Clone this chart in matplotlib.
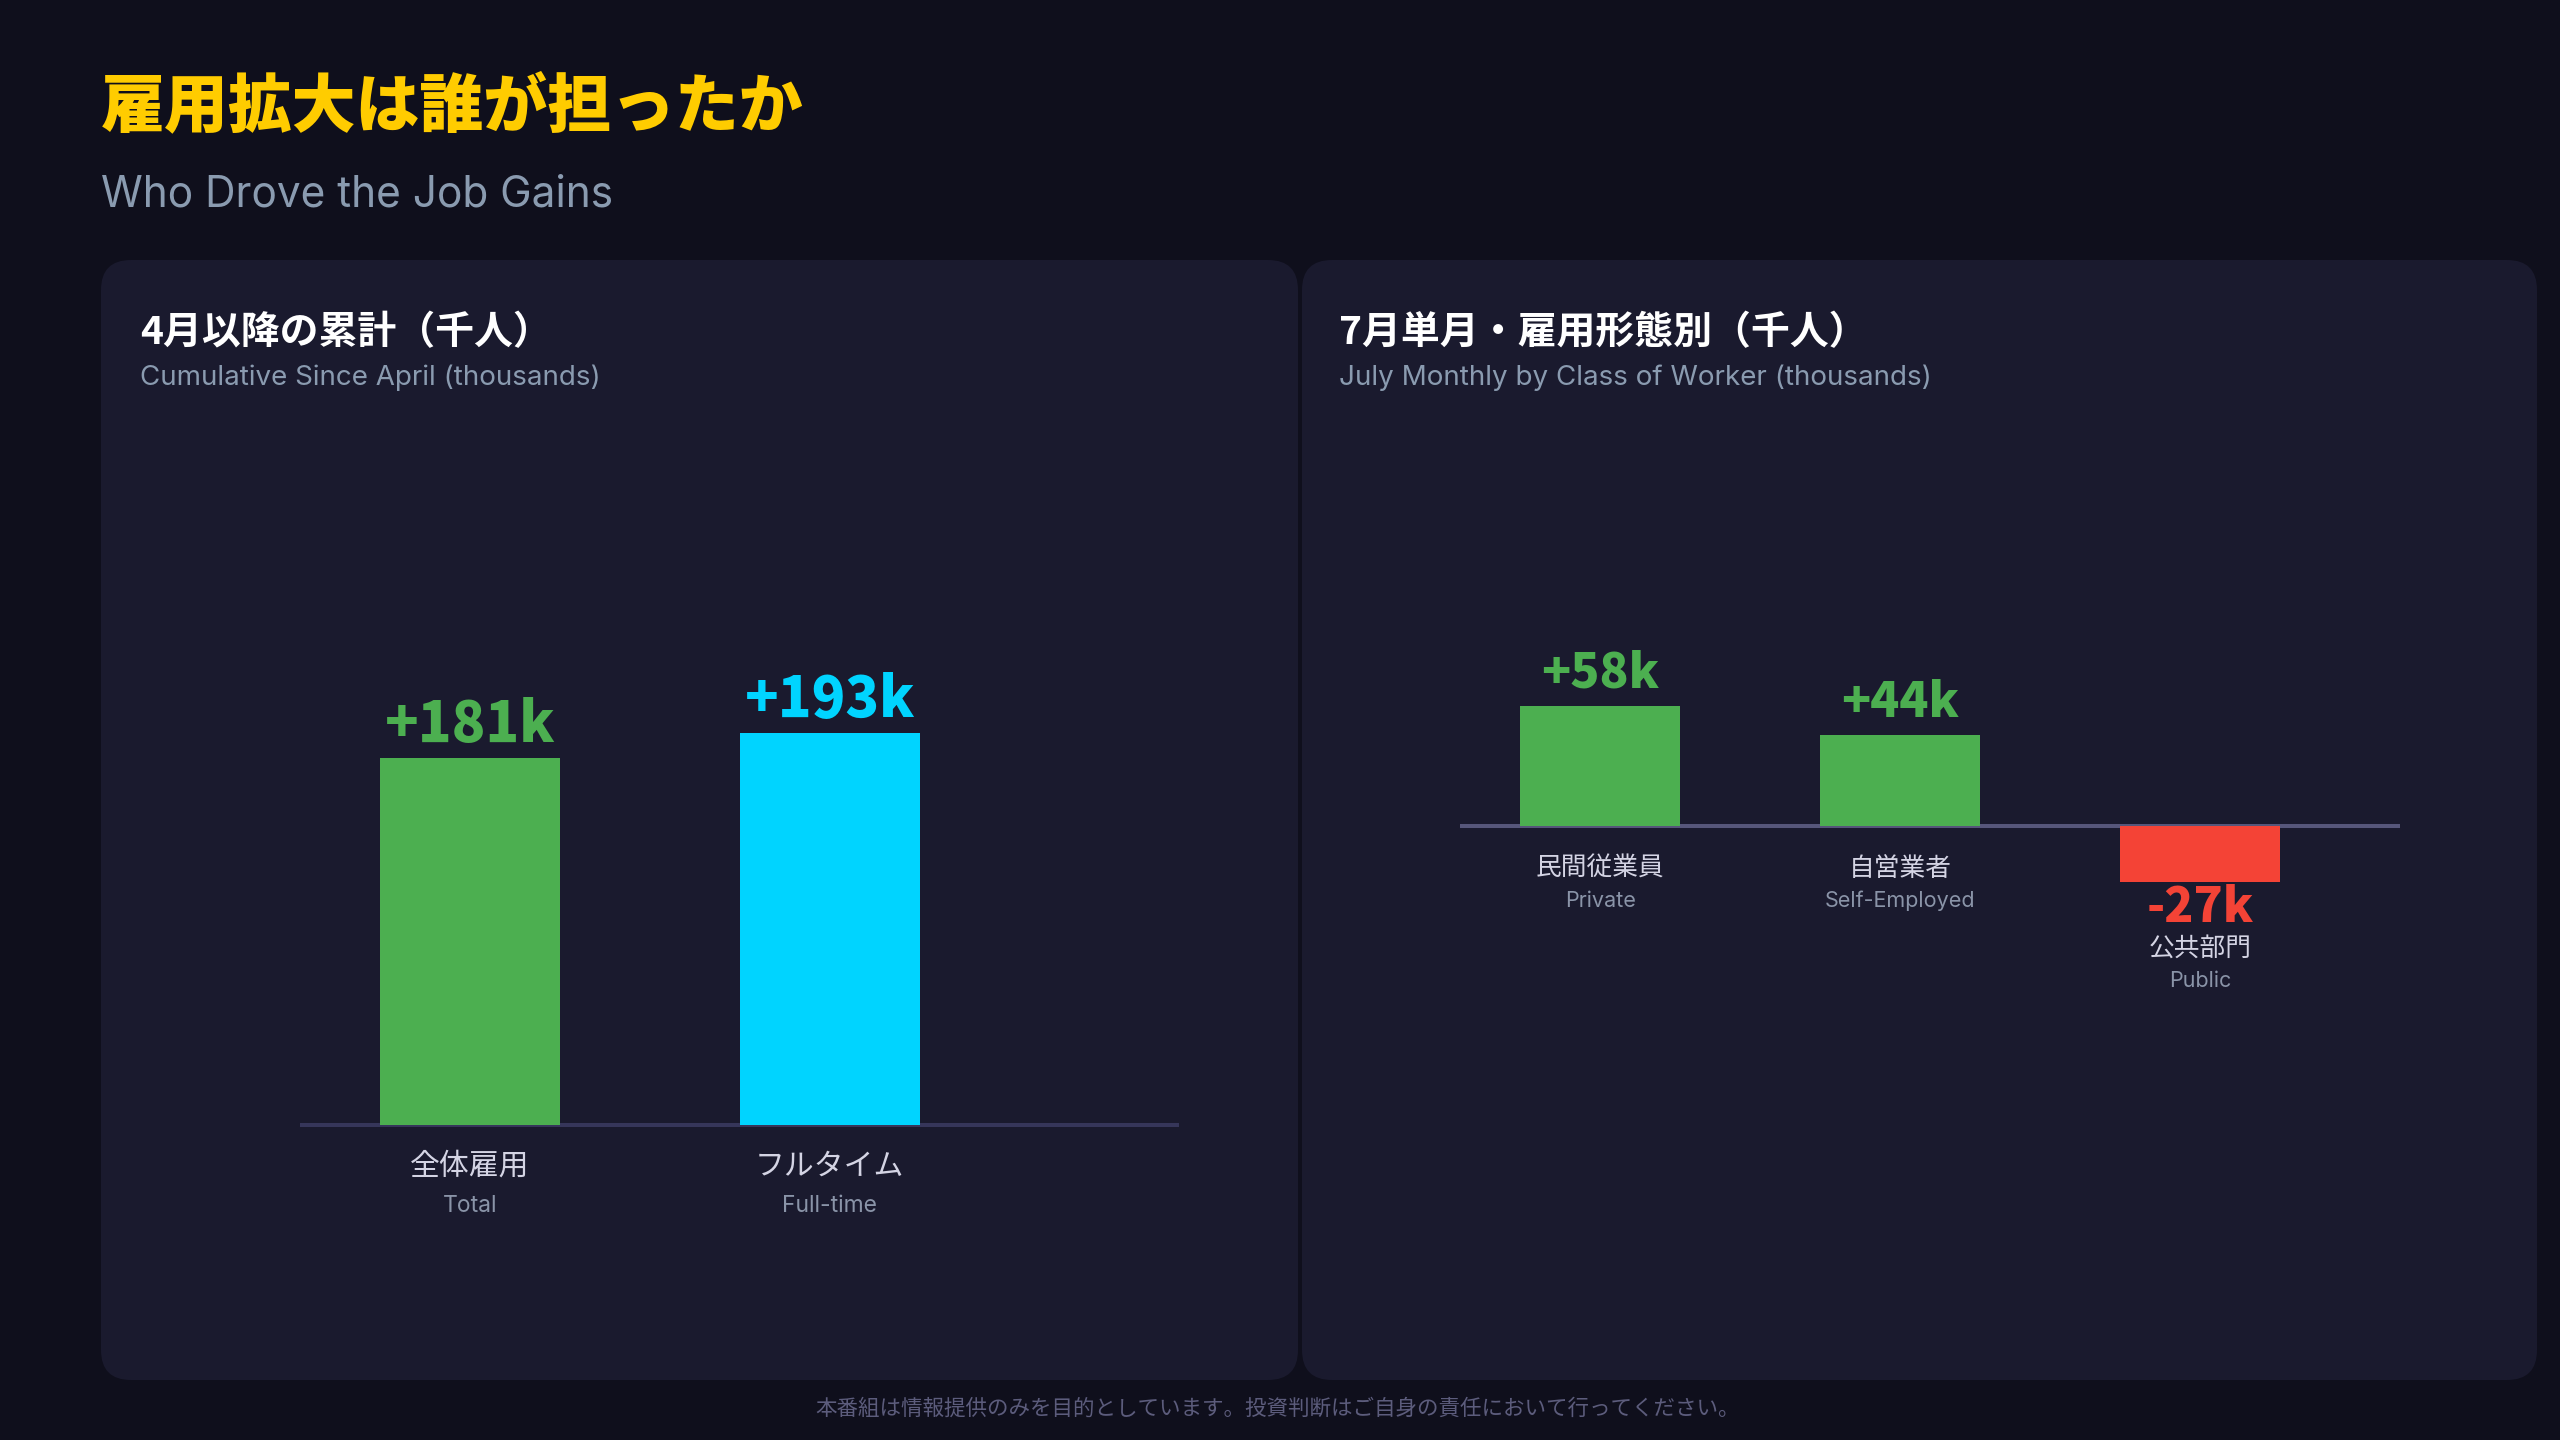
import matplotlib
matplotlib.use("Agg")
import matplotlib.pyplot as plt
from matplotlib.patches import FancyBboxPatch

plt.rcParams['font.family'] = ['Noto Sans CJK JP', 'DejaVu Sans']
EN = ['Inter', 'Noto Sans CJK JP', 'DejaVu Sans']

# ---------------- data ----------------
title_ja = "雇用拡大は誰が担ったか"
title_en = "Who Drove the Job Gains"

left_title_ja = "4月以降の累計（千人）"
left_title_en = "Cumulative Since April (thousands)"
left_cats_ja = ["全体雇用", "フルタイム"]
left_cats_en = ["Total", "Full-time"]
left_values = [181, 193]
left_colors = ["#4CAF50", "#00D4FF"]

right_title_ja = "7月単月・雇用形態別（千人）"
right_title_en = "July Monthly by Class of Worker (thousands)"
right_cats_ja = ["民間従業員", "自営業者", "公共部門"]
right_cats_en = ["Private", "Self-Employed", "Public"]
right_values = [58, 44, -27]

footer = "本番組は情報提供のみを目的としています。投資判断はご自身の責任において行ってください。"

# ---------------- style ----------------
BG = "#0f0f1c"
PANEL = "#1a1a2e"
W, H = 2560, 1440
fig = plt.figure(figsize=(25.6, 14.4), dpi=100, facecolor=BG)

# background axes in pixel coordinates
bg = fig.add_axes([0, 0, 1, 1])
bg.set_xlim(0, W)
bg.set_ylim(H, 0)
bg.axis("off")
bg.set_facecolor(BG)

for (x0, x1) in [(101, 1298), (1302, 2537)]:
    bg.add_patch(FancyBboxPatch((x0, 260), x1 - x0, 1380 - 260,
                                boxstyle="round,pad=0,rounding_size=30",
                                facecolor=PANEL, edgecolor="none", zorder=0))

bg.text(101, 107, title_ja, color="#FFCC00", fontsize=46, fontweight="black",
        va="center", ha="left")
bg.text(101, 195, title_en, color="#8a9bb0", fontsize=30.5, va="center", ha="left",
        family=EN)

bg.text(140, 333, left_title_ja, color="white", fontsize=28, fontweight="bold",
        va="center", ha="left")
bg.text(140, 378, left_title_en, color="#8a9bb0", fontsize=20, va="center", ha="left",
        family=EN)
bg.text(1339, 333, right_title_ja, color="white", fontsize=28, fontweight="bold",
        va="center", ha="left")
bg.text(1339, 378, right_title_en, color="#8a9bb0", fontsize=20, va="center", ha="left",
        family=EN)

bg.text(1278, 1409, footer, color="#5c5c7c", fontsize=15.5, va="center", ha="center")


def px_axes(x0, x1, y0, y1):
    return fig.add_axes([x0 / W, 1 - y1 / H, (x1 - x0) / W, (y1 - y0) / H])


# ---------------- left chart ----------------
sL = 2.03  # px per thousand
axL = px_axes(300, 1179, 400, 1200)
axL.set_facecolor("none")
axL.set_xlim(-0.472, 1.97)
axL.set_ylim(-75 / sL, 725 / sL)
axL.axis("off")
xs = list(range(len(left_values)))
axL.bar(xs, left_values, width=0.5, color=left_colors, zorder=2)
axL.axhline(0, color="#36365a", lw=2.9, zorder=1)
for i, v in enumerate(left_values):
    axL.annotate(f"{v:+d}k", xy=(i, v), xytext=(0, 16), textcoords="offset pixels",
                 ha="center", va="baseline", fontsize=40, fontweight="black",
                 color=left_colors[i])
    axL.annotate(left_cats_ja[i], xy=(i, 0), xytext=(0, -41), textcoords="offset pixels",
                 ha="center", va="center", fontsize=21.5, color="#d4d4e4")
    axL.annotate(left_cats_en[i], xy=(i, 0), xytext=(0, -87), textcoords="offset pixels",
                 ha="center", va="baseline", fontsize=16.5, color="#8a94a8", family=EN)

# ---------------- right chart ----------------
sR = 2.07
axR = px_axes(1460, 2400, 500, 1100)
axR.set_facecolor("none")
axR.set_xlim(-0.467, 2.667)
axR.set_ylim(-274 / sR, 326 / sR)
axR.axis("off")
xr = list(range(len(right_values)))
rcolors = ["#4CAF50" if v >= 0 else "#F44336" for v in right_values]
axR.bar(xr, right_values, width=0.533, color=rcolors, zorder=2)
axR.axhline(0, color="#56567a", lw=2.9, zorder=1)
for i, v in enumerate(right_values):
    if v >= 0:
        axR.annotate(f"{v:+d}k", xy=(i, v), xytext=(0, 18), textcoords="offset pixels",
                     ha="center", va="baseline", fontsize=34.5, fontweight="black",
                     color=rcolors[i])
        base, c_off, e_off = 0, -43, -81
    else:
        axR.annotate(f"{v:+d}k", xy=(i, v), xytext=(0, -40), textcoords="offset pixels",
                     ha="center", va="baseline", fontsize=34.5, fontweight="black",
                     color=rcolors[i])
        base, c_off, e_off = v, -67, -105
    axR.annotate(right_cats_ja[i], xy=(i, base), xytext=(0, c_off), textcoords="offset pixels",
                 ha="center", va="center", fontsize=18.5, color="#d4d4e4")
    axR.annotate(right_cats_en[i], xy=(i, base), xytext=(0, e_off), textcoords="offset pixels",
                 ha="center", va="baseline", fontsize=15.5, color="#8a94a8", family=EN)

fig.savefig("out.png", dpi=100, facecolor=BG)
